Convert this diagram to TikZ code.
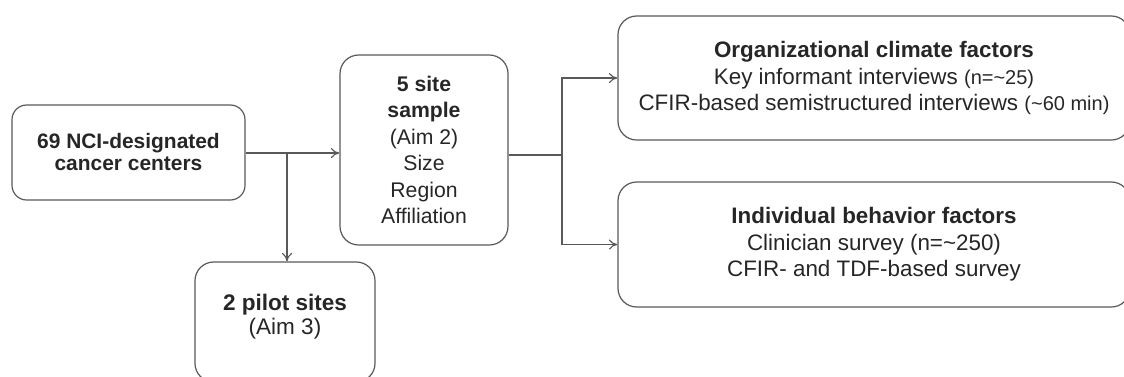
\documentclass[tikz,border=0pt]{standalone}
\usepackage{fontspec}
\setmainfont{Liberation Sans}
\usepackage{tikz}
\usetikzlibrary{arrows.meta,positioning}

\begin{document}
\begin{tikzpicture}[
    x=0.75pt, y=-0.75pt,
    box/.style={draw=black!65, line width=0.9pt, rounded corners=14pt, align=center, text=black!85,
      font=\fontsize{16.8}{20}\selectfont},
    arr/.style={-{To[length=2.2mm, width=2.6mm]}, draw=black!65, line width=0.8pt},
    link/.style={draw=black!65, line width=0.8pt},
  ]
    \useasboundingbox (0,0) rectangle (1124,376);
    \node[box, minimum width=174.75pt, minimum height=71.25pt, rounded corners=11pt,
      font=\fontsize{15.7}{16.5}\selectfont] (centers) at (128.5,152.5)
      {\textbf{69 NCI-designated}\\\textbf{cancer centers}};
    \node[box, minimum width=126pt, minimum height=142.5pt, font=\fontsize{15.9}{19.8}\selectfont] (sample) at (424,150)
      {\textbf{5 site}\\\textbf{sample}\\(Aim 2)\\Size\\Region\\Affiliation};
    \node[box, minimum width=135pt, minimum height=90pt, font=\fontsize{16.9}{18}\selectfont] (pilot) at (285,322)
      {\textbf{2 pilot sites}\\(Aim 3)\\[-7pt]};
    \node[box, minimum width=384pt, minimum height=93pt] (org) at (874,78)
      {\textbf{Organizational climate factors}\\Key informant interviews {\fontsize{15}{20}\selectfont(n=\textasciitilde25)}\\
       CFIR-based semistructured interviews {\fontsize{15}{20}\selectfont(\textasciitilde60 min)}};
    \node[box, minimum width=384pt, minimum height=93.75pt] (indiv) at (874,244.5)
      {\textbf{Individual behavior factors}\\Clinician survey (n=\textasciitilde250)\\CFIR- and TDF-based survey};
    \coordinate (split1) at (287,153);
    \coordinate (split2) at (562,155);
    \draw[arr] (centers.east |- split1) -- (sample.west |- split1);
    \draw[arr] (split1) -- (split1 |- pilot.north);
    \draw[link] (sample.east |- split2) -- (split2);
    \draw[arr] (split2) |- (org.west);
    \draw[arr] (split2) |- (indiv.west);
  \end{tikzpicture}
\end{document}
